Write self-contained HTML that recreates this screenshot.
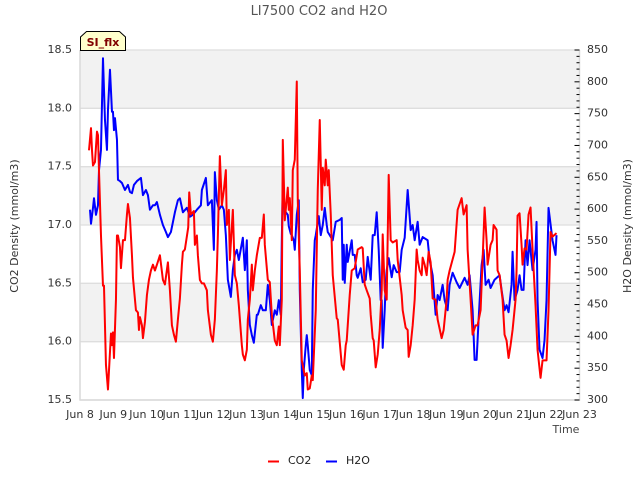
<!DOCTYPE html>
<html>
<head>
<meta charset="utf-8">
<title>LI7500 CO2 and H2O</title>
<style>
html,body{margin:0;padding:0;background:#fff;}
svg{display:block;font-family:"DejaVu Sans","Liberation Sans",sans-serif;}
</style>
</head>
<body>
<svg id="chart" width="640" height="480" viewBox="0 0 640 480" xmlns="http://www.w3.org/2000/svg">
<text x="319" y="15" text-anchor="middle" font-size="13" fill="#555">LI7500 CO2 and H2O</text>
<text transform="translate(18,226) rotate(-90)" text-anchor="middle" font-size="11" fill="#333">CO2 Density (mmol/m3)</text>
<text transform="translate(631,226) rotate(-90)" text-anchor="middle" font-size="11" fill="#333">H2O Density (mmol/m3)</text>
<text x="566" y="433" text-anchor="middle" font-size="11" fill="#444">Time</text>
<g id="bands"></g>
<g id="grid"></g>
<g id="ticks-left"></g>
<g id="ticks-right"></g>
<g id="ticks-x"></g>
<g id="series"></g>
<g>
<polygon points="80.5,50.5 80.5,37 86.5,31.5 119.5,31.5 125.5,37 125.5,50.5" fill="#ffffcc" stroke="#000" stroke-width="1"/>
<text x="103" y="46" text-anchor="middle" font-size="11" font-weight="bold" fill="#800000">SI_flx</text>
</g>
<g>
<line x1="268" y1="461.5" x2="279" y2="461.5" stroke="#ff0000" stroke-width="2"/>
<text x="288" y="464" font-size="11" fill="#222">CO2</text>
<line x1="326" y1="461.5" x2="337" y2="461.5" stroke="#0000ff" stroke-width="2"/>
<text x="346" y="464" font-size="11" fill="#222">H2O</text>
</g>
</svg>
<script>
const co2Times = [.27,.33,.36,.39,.45,.51,.54,.57,.63,.69,.72,.78,.84,.93,.96,.99,1.02,1.08,1.11,1.14,1.20,1.23,1.29,1.35,1.41,1.44,1.50,1.56,1.59,1.68,1.74,1.77,1.80,1.86,1.89,1.95,2.01,2.07,2.13,2.19,2.25,2.31,2.40,2.49,2.55,2.64,2.70,2.76,2.82,2.88,2.94,3.00,3.06,3.09,3.15,3.25,3.28,3.33,3.42,3.45,3.51,3.54,3.60,3.66,3.72,3.81,3.84,3.93,3.99,4.05,4.11,4.14,4.20,4.26,4.32,4.38,4.41,4.47,4.50,4.59,4.65,4.71,4.77,4.86,4.89,4.95,5.01,5.04,5.10,5.16,5.19,5.25,5.31,5.40,5.46,5.52,5.55,5.64,5.70,5.76,5.85,5.91,5.97,6.00,6.06,6.09,6.15,6.24,6.27,6.30,6.36,6.39,6.45,6.51,6.54,6.60,6.66,6.75,6.81,6.84,6.90,6.96,6.99,7.08,7.11,7.14,7.20,7.26,7.29,7.35,7.38,7.44,7.47,7.53,7.59,7.71,7.74,7.86,7.92,7.98,8.01,8.10,8.16,8.25,8.34,8.46,8.49,8.55,8.61,8.70,8.73,8.79,8.82,8.88,8.94,9.00,9.06,9.09,9.15,9.21,9.27,9.33,9.39,9.51,9.54,9.66,9.69,9.78,9.84,9.87,9.93,9.99,10.05,10.11,10.14,10.20,10.26,10.29,10.35,10.41,10.47,10.53,10.59,10.68,10.74,10.86,10.92,11.01,11.04,11.10,11.25,11.34,11.46,11.52,11.61,11.64,11.73,11.79,11.88,11.94,12.03,12.09,12.15,12.21,12.24,12.33,12.39,12.42,12.51,12.54,12.60,12.69,12.75,12.81,12.87,12.93,12.99,13.08,13.11,13.14,13.20,13.26,13.29,13.35,13.41,13.47,13.53,13.59,13.68,13.74,13.83,13.89,13.95,14.01,14.07,14.13,14.19,14.31];
const co2Values = [17.64,17.83,17.64,17.51,17.54,17.80,17.77,17.47,16.91,16.48,16.48,15.80,15.59,16.07,15.97,16.08,15.86,16.36,16.91,16.91,16.81,16.63,16.87,16.87,17.09,17.18,17.06,16.74,16.55,16.27,16.25,16.10,16.21,16.14,16.03,16.17,16.40,16.53,16.61,16.66,16.61,16.66,16.74,16.53,16.49,16.68,16.44,16.14,16.06,16.00,16.19,16.37,16.66,16.77,16.79,16.98,17.28,17.09,17.12,16.83,16.91,16.74,16.53,16.50,16.50,16.44,16.27,16.06,16.00,16.19,16.61,16.91,17.59,17.17,17.30,17.47,17.00,17.13,16.70,17.13,16.57,16.50,16.31,15.97,15.89,15.84,15.93,16.19,16.36,16.66,16.44,16.61,16.74,16.89,16.89,17.09,16.83,16.53,16.51,16.23,16.01,15.97,16.13,15.97,16.36,17.73,17.04,17.32,17.13,17.23,16.87,17.47,17.56,18.23,17.21,16.61,15.84,15.71,15.73,15.59,15.60,15.71,15.67,16.27,16.79,17.30,17.90,17.13,17.49,17.34,17.56,17.34,17.47,17.09,16.57,16.20,16.19,15.80,15.76,15.97,16.01,16.40,16.61,16.63,16.79,16.81,16.80,16.49,16.44,16.37,16.23,16.03,16.01,15.78,15.89,16.10,16.44,16.92,16.44,16.36,17.43,16.87,16.85,16.87,16.70,16.40,16.27,16.12,16.10,15.87,15.97,16.14,16.36,16.79,16.70,16.61,16.57,16.72,16.66,16.57,16.77,16.68,16.37,16.36,16.19,16.03,16.10,16.36,16.53,16.61,16.77,17.13,17.23,17.09,17.17,16.79,16.36,16.06,16.14,16.14,16.27,16.70,17.15,16.87,16.66,16.83,16.87,17.00,16.96,16.61,16.57,16.36,16.06,16.01,15.86,15.97,16.10,16.36,16.61,17.08,17.10,16.83,16.66,16.80,16.79,17.09,17.15,16.79,16.31,15.93,15.69,15.84,15.84,15.84,16.27,16.94,16.90,16.93];
const h2oTimes = [.30,.33,.39,.42,.48,.54,.57,.63,.69,.75,.81,.84,.90,.96,.99,1.02,1.05,1.11,1.14,1.20,1.26,1.35,1.44,1.50,1.56,1.62,1.71,1.83,1.89,1.98,2.04,2.10,2.19,2.25,2.31,2.40,2.49,2.58,2.64,2.73,2.85,2.94,3.00,3.09,3.21,3.30,3.39,3.51,3.63,3.66,3.78,3.84,3.96,4.02,4.05,4.11,4.17,4.26,4.32,4.38,4.44,4.53,4.59,4.65,4.71,4.77,4.89,4.95,5.01,5.04,5.10,5.16,5.22,5.31,5.34,5.43,5.49,5.58,5.64,5.70,5.76,5.85,5.91,5.97,6.03,6.06,6.09,6.15,6.18,6.24,6.27,6.33,6.36,6.42,6.45,6.51,6.57,6.60,6.66,6.69,6.72,6.78,6.81,6.84,6.90,6.96,6.99,7.05,7.08,7.17,7.23,7.29,7.35,7.41,7.44,7.50,7.59,7.68,7.80,7.86,7.89,7.92,7.95,8.01,8.04,8.16,8.19,8.25,8.31,8.34,8.43,8.49,8.58,8.64,8.73,8.79,8.85,8.91,8.97,9.03,9.06,9.09,9.15,9.18,9.21,9.27,9.36,9.42,9.51,9.60,9.66,9.75,9.84,9.93,9.99,10.05,10.14,10.20,10.29,10.44,10.50,10.59,10.68,10.74,10.80,10.89,10.95,11.04,11.10,11.19,11.31,11.40,11.55,11.64,11.70,11.79,11.85,11.91,11.97,12.06,12.12,12.18,12.27,12.33,12.45,12.60,12.66,12.75,12.81,12.87,12.96,12.99,13.05,13.14,13.20,13.26,13.32,13.38,13.44,13.50,13.59,13.68,13.71,13.74,13.80,13.89,13.95,14.01,14.07,14.19,14.28,14.31];
const h2oValues = [599,577,602,617,591,606,661,693,837,740,693,756,819,753,753,724,743,709,646,644,641,630,638,627,625,638,644,649,622,630,622,599,606,606,611,591,575,564,556,564,595,614,617,595,602,588,591,599,606,630,649,606,614,536,658,614,599,606,599,559,489,462,504,528,536,520,555,504,551,473,418,402,390,434,434,449,441,441,481,457,418,441,434,457,434,551,641,591,595,591,573,561,559,551,536,591,614,473,347,303,347,386,402,386,347,339,473,551,559,589,559,575,602,575,564,559,551,580,583,586,489,544,484,544,517,551,528,528,496,492,507,485,489,525,489,559,559,595,536,457,457,382,441,481,504,523,493,512,501,501,536,555,630,567,575,551,580,544,556,551,520,496,434,465,457,481,457,441,481,500,485,476,492,481,496,441,363,363,426,512,536,481,489,476,489,496,473,441,449,438,481,533,457,473,496,473,473,551,512,551,504,536,580,457,379,366,394,457,602,551,528,559];
const co2Ticks = [15.5,16,16.5,17,17.5,18,18.5];
const h2oTicks = [300,350,400,450,500,550,600,650,700,750,800,850];
const dayTicks = [8,9,10,11,12,13,14,15,16,17,18,19,20,21,22,23];
const bandRanges = [[18,18.5],[17,17.5],[16,16.5]];

const NS = 'http://www.w3.org/2000/svg';
const plotLeft = 80, plotRight = 579.5, plotTop = 50, plotBottom = 400;
const xScale = function (d) { return plotLeft + (d / 15) * (plotRight - plotLeft); };
const yCo2 = function (v) { return plotBottom - ((v - 15.5) / 3) * (plotBottom - plotTop); };
const yH2o = function (v) { return plotBottom - ((v - 300) / 550) * (plotBottom - plotTop); };

function make(tag, attrs, parent) {
  const el = document.createElementNS(NS, tag);
  Object.keys(attrs).forEach(function (k) { el.setAttribute(k, attrs[k]); });
  parent.appendChild(el);
  return el;
}

const bandsG = document.getElementById('bands');
const gridG = document.getElementById('grid');
const leftG = document.getElementById('ticks-left');
const rightG = document.getElementById('ticks-right');
const xG = document.getElementById('ticks-x');
const seriesG = document.getElementById('series');

bandRanges.forEach(function (r) {
  const el = make('rect', {x: plotLeft, y: yCo2(r[1]), width: plotRight - plotLeft, height: yCo2(r[0]) - yCo2(r[1]), fill: '#f2f2f2'}, bandsG);
  
  
});

co2Ticks.forEach(function (v) {
  const line = make('line', {x1: plotLeft, x2: plotRight, y1: yCo2(v), y2: yCo2(v), stroke: '#dedede', 'stroke-width': 1.3}, gridG);
  
  
  const t = make('text', {x: 72, y: yCo2(v) + 3, 'text-anchor': 'end', 'font-size': 11, fill: '#333'}, leftG);
  
  
  t.textContent = v.toFixed(1);
});

const frame = make('polyline', {points: plotLeft + ',' + plotTop + ' ' + plotLeft + ',' + plotBottom + ' ' + plotRight + ',' + plotBottom + ' ' + plotRight + ',' + plotTop, fill: 'none', stroke: '#d9d9d9', 'stroke-width': 1.5}, gridG);



h2oTicks.forEach(function (v, i) {
  const y = yH2o(v);
  const major = make('line', {x1: plotRight - 5, x2: plotRight, y1: y, y2: y, stroke: '#000', 'stroke-width': 1}, rightG);
  
  
  const t = make('text', {x: 587, y: y + 3, 'font-size': 11, fill: '#333'}, rightG);
  
  
  t.textContent = String(v);
  if (i < h2oTicks.length - 1) {
    for (let k = 1; k < 5; k++) {
      const my = yH2o(v + (h2oTicks[i + 1] - v) * k / 5);
      const minor = make('line', {x1: plotRight - 3, x2: plotRight, y1: my, y2: my, stroke: '#000', 'stroke-width': 1}, rightG);
      
      
    }
  }
});

dayTicks.forEach(function (day) {
  const t = make('text', {x: xScale(day - 8), y: 418, 'text-anchor': 'middle', 'font-size': 11, fill: '#333'}, xG);
  
  
  t.textContent = 'Jun ' + day;
});

function linePoints(times, values, yScale) {
  return times.map(function (d, i) {
    return xScale(d).toFixed(2) + ',' + yScale(values[i]).toFixed(2);
  }).join(' ');
}

const h2oLine = make('polyline', {points: linePoints(h2oTimes, h2oValues, yH2o), fill: 'none', stroke: '#0000ff', 'stroke-width': 2, 'stroke-linejoin': 'round'}, seriesG);



const co2Line = make('polyline', {points: linePoints(co2Times, co2Values, yCo2), fill: 'none', stroke: '#ff0000', 'stroke-width': 2, 'stroke-linejoin': 'round'}, seriesG);


</script>
</body>
</html>
